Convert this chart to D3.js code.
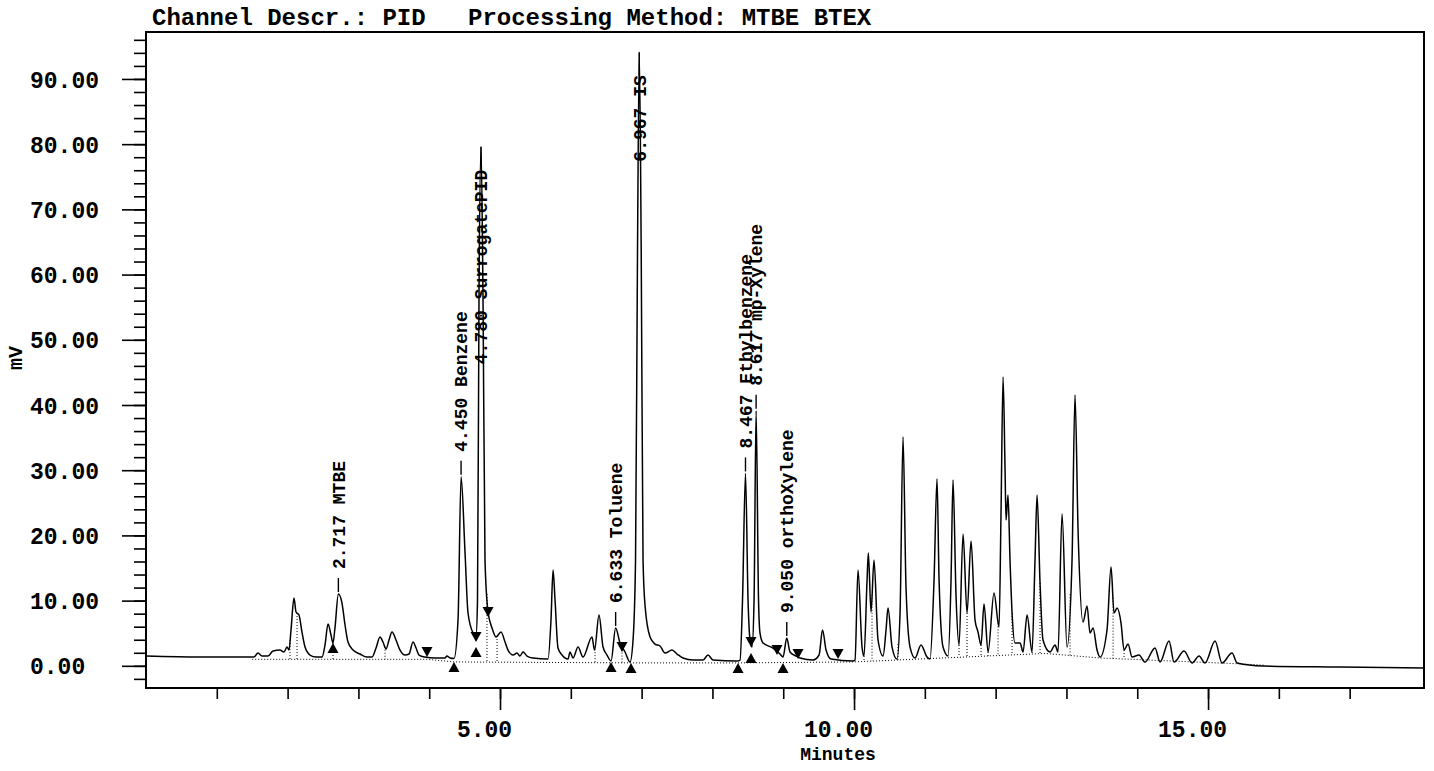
<!DOCTYPE html>
<html>
<head>
<meta charset="utf-8">
<script src="https://cdn.jsdelivr.net/npm/d3@7"></script>
<style>
  body { margin: 0; background: #fff; }
  svg { display: block; }
  text { font-family: "Liberation Mono", "DejaVu Sans Mono", monospace; font-weight: bold; fill: #000; }
</style>
</head>
<body>
<div id="chart"></div>
<script>
// PID trace: [minutes, mV]
const trace = [
  [0.000,1.50],[0.763,1.35],[1.469,1.35],[1.525,1.35],[1.582,1.96],[1.638,1.50],[1.723,1.50],[1.794,2.27],[1.893,2.42],[1.949,2.12],
  [1.992,2.88],[2.020,2.42],[2.048,5.49],[2.090,10.40],[2.119,8.25],[2.161,7.79],[2.203,5.18],[2.246,2.88],[2.316,1.66],[2.401,1.35],
  [2.486,1.35],[2.528,3.19],[2.571,6.41],[2.613,4.72],[2.641,3.50],[2.669,5.80],[2.717,11.01],[2.768,9.63],[2.811,6.26],[2.853,3.65],
  [2.924,2.42],[3.023,1.81],[3.121,1.35],[3.192,1.35],[3.249,2.73],[3.305,4.42],[3.347,3.65],[3.390,2.58],[3.432,3.96],[3.475,5.18],
  [3.531,3.96],[3.588,2.42],[3.658,1.66],[3.715,1.81],[3.771,3.65],[3.814,2.73],[3.856,1.66],[3.941,1.35],[4.082,1.20],[4.223,1.20],
  [4.251,1.50],[4.294,1.20],[4.350,1.12],[4.407,7.02],[4.450,29.0],[4.506,17.3],[4.548,8.10],[4.619,5.03],[4.661,4.57],[4.682,10.1],
  [4.703,56.1],[4.732,79.6],[4.760,56.1],[4.788,16.2],[4.831,8.25],[4.887,5.80],[4.944,4.42],[5.014,5.18],[5.071,3.65],[5.113,2.42],
  [5.184,1.66],[5.240,1.96],[5.282,1.50],[5.325,2.12],[5.381,1.50],[5.466,1.20],[5.678,1.04],[5.720,7.02],[5.749,14.69],[5.777,10.09],
  [5.819,2.73],[5.876,1.66],[5.960,1.04],[5.989,2.12],[6.031,1.20],[6.102,2.88],[6.172,1.35],[6.299,4.42],[6.335,2.42],[6.398,7.79],
  [6.455,2.88],[6.511,1.66],[6.568,0.74],[6.633,5.80],[6.695,3.50],[6.766,2.12],[6.836,0.58],[6.879,3.96],[6.914,16.2],[6.942,63.8],
  [6.967,94.1],[6.994,63.8],[7.020,16.2],[7.048,9.30],[7.119,4.42],[7.189,3.34],[7.260,3.04],[7.331,1.96],[7.429,2.42],[7.500,1.81],
  [7.585,1.20],[7.726,0.89],[7.867,0.89],[7.938,1.66],[8.008,0.89],[8.347,0.74],[8.390,0.89],[8.425,10.1],[8.467,29.5],[8.503,10.1],
  [8.531,3.96],[8.559,2.88],[8.588,10.1],[8.617,39.1],[8.651,10.1],[8.672,5.03],[8.715,3.50],[8.856,2.73],[8.955,1.81],[8.997,1.35],
  [9.050,4.26],[9.096,2.12],[9.181,1.50],[9.237,1.20],[9.421,0.89],[9.506,1.66],[9.555,5.49],[9.605,2.42],[9.675,1.04],[9.986,0.74],
  [10.014,0.89],[10.056,14.69],[10.113,2.88],[10.141,1.50],[10.184,13.16],[10.202,17.30],[10.240,8.25],[10.282,16.22],[10.339,3.96],[10.410,1.50],
  [10.452,5.49],[10.480,8.86],[10.537,2.88],[10.607,1.04],[10.650,8.10],[10.692,35.09],[10.734,12.08],[10.791,2.88],[10.862,1.20],[10.946,3.19],
  [11.031,1.35],[11.073,1.04],[11.130,13.16],[11.172,28.65],[11.201,13.16],[11.257,2.88],[11.328,1.50],[11.370,13.16],[11.398,28.49],[11.441,10.55],
  [11.483,3.19],[11.540,20.21],[11.596,8.10],[11.653,19.14],[11.709,7.02],[11.751,5.18],[11.794,3.19],[11.836,9.48],[11.893,2.12],[11.977,11.16],
  [12.048,5.95],[12.076,23.43],[12.105,44.29],[12.133,30.02],[12.147,22.36],[12.175,26.19],[12.203,16.22],[12.232,8.10],[12.274,3.50],[12.345,3.50],
  [12.387,2.12],[12.444,7.79],[12.514,2.12],[12.556,16.22],[12.585,26.19],[12.627,12.70],[12.669,3.96],[12.768,2.12],[12.839,3.19],[12.881,2.12],
  [12.938,23.28],[13.008,2.88],[13.079,16.22],[13.121,41.53],[13.164,20.82],[13.234,6.72],[13.291,9.17],[13.333,5.03],[13.376,5.80],[13.432,2.42],
  [13.475,1.35],[13.573,5.49],[13.630,15.15],[13.672,8.10],[13.715,8.86],[13.771,6.56],[13.814,2.42],[13.870,3.34],[13.927,1.35],[14.025,1.66],
  [14.110,0.58],[14.251,2.73],[14.322,0.58],[14.449,3.80],[14.520,0.58],[14.661,2.27],[14.774,0.43],[14.873,1.50],[14.958,0.43],[15.099,3.80],
  [15.198,0.43],[15.339,1.96],[15.410,0.43],[15.777,-0.03],[16.864,-0.18],[18.051,-0.34]
];

// named peaks (retention time, compound)
const peakTimes = [2.717, 4.450, 4.780, 6.633, 6.967, 8.467, 8.617, 9.050];
const peakNames = ["MTBE", "Benzene", "SurrogatePID", "Toluene", "IS", "Ethylbenzene", "mp-Xylene", "orthoXylene"];

// integration start/end markers
const markerTimes  = [2.641, 3.969, 4.350, 4.661, 4.661, 4.831, 6.568, 6.723, 6.850, 8.362, 8.545, 8.545, 8.912, 8.997, 9.209, 9.774];
const markerLevels = [3.50, 1.35, 0.58, 3.65, 2.88, 7.48, 0.58, 2.12, 0.43, 0.43, 2.88, 1.96, 1.66, 0.43, 1.04, 1.04];
const markerDirs   = ["up","down","up","down","up","down","up","down","up","up","down","up","down","up","down","down"];

// integration baseline and peak drop lines
const baselinePts = [[1.50,1.0],[3.97,1.0],[4.35,0.6],[6.85,0.45],[8.36,0.45],[10.0,0.6],[12.7,1.9],[13.48,1.2],[15.45,0.3],[15.8,0.1]];
const dropTimes = [2.034, 2.133, 2.641, 3.376, 4.816, 4.958, 6.342, 6.723, 10.141, 10.254, 10.621, 11.483, 11.596,
                   11.794, 11.893, 12.034, 12.232, 12.514, 12.627, 13.051, 13.658, 13.814];

// axis ticks
const yMajorTicks = d3.range(0, 91, 10);
const yMinorTicks = d3.range(-2, 97, 2);
const xMajorTicks = [5, 10, 15];
const xMinorTicks = d3.range(1, 18);

const width = 1434, height = 771;
const svg = d3.select("#chart").append("svg")
  .attr("width", width).attr("height", height);

const x = d3.scaleLinear().domain([0, 18.05]).range([146, 1424]);
const y = d3.scaleLinear().domain([-3.4, 97.2]).range([688, 32]);

// header
svg.append("text").attr("x", 152).attr("y", 25).style("font-size", "24px").text("Channel Descr.: PID");
svg.append("text").attr("x", 468).attr("y", 25).style("font-size", "24px").text("Processing Method: MTBE BTEX");

// axes
const fmt = d3.format(".2f");
const yMinor = svg.append("g").attr("transform", "translate(146,0)")
  .call(d3.axisLeft(y).tickValues(yMinorTicks).tickSize(12).tickSizeOuter(0).tickFormat(""));
const yMajor = svg.append("g").attr("transform", "translate(146,0)")
  .call(d3.axisLeft(y).tickValues(yMajorTicks).tickSize(24).tickSizeOuter(0).tickFormat(fmt));
yMajor.selectAll("text").attr("x", -116).attr("text-anchor", "start").attr("dy", "0.35em");

const xMinor = svg.append("g").attr("transform", "translate(0,688)")
  .call(d3.axisBottom(x).tickValues(xMinorTicks).tickSize(11).tickSizeOuter(0).tickFormat(""));
const xMajor = svg.append("g").attr("transform", "translate(0,688)")
  .call(d3.axisBottom(x).tickValues(xMajorTicks).tickSize(22).tickSizeOuter(0).tickFormat(fmt));
xMajor.selectAll("text").attr("y", 49).attr("dy", 0).attr("dx", -16);

[yMinor, yMajor, xMinor, xMajor].forEach(g => {
  g.attr("font-family", null).attr("font-size", null);
  g.select(".domain").remove();
  g.selectAll("line").attr("stroke", "#000").attr("stroke-width", 1.6);
  g.selectAll("text").style("font-size", "23px").attr("fill", "#000");
});

svg.append("text").attr("transform", "translate(22,358) rotate(-90)")
  .attr("text-anchor", "middle").style("font-size", "20px").text("mV");
svg.append("text").attr("x", 838).attr("y", 760)
  .attr("text-anchor", "middle").style("font-size", "18px").text("Minutes");

// frame
svg.append("rect").attr("x", 146).attr("y", 32).attr("width", 1424 - 146).attr("height", 688 - 32)
  .attr("fill", "none").attr("stroke", "#000").attr("stroke-width", 2);

// helpers to read the trace / baseline at a time
const bis = d3.bisector(d => d[0]).left;
function valueAt(arr, t) {
  const i = Math.max(1, Math.min(arr.length - 1, bis(arr, t)));
  const a = arr[i - 1], b = arr[i];
  return a[1] + (b[1] - a[1]) * (t - a[0]) / (b[0] - a[0]);
}

const plot = svg.append("g");

// dotted integration baseline and drop lines
plot.append("path").datum(baselinePts)
  .attr("d", d3.line().x(d => x(d[0])).y(d => y(d[1])))
  .attr("fill", "none").attr("stroke", "#000").attr("stroke-width", 1)
  .attr("stroke-dasharray", "1,2");
plot.selectAll(".drop").data(dropTimes).enter().append("line")
  .attr("class", "drop")
  .attr("x1", d => x(d)).attr("x2", d => x(d))
  .attr("y1", d => y(valueAt(trace, d))).attr("y2", d => y(valueAt(baselinePts, d)))
  .attr("stroke", "#000").attr("stroke-width", 1).attr("stroke-dasharray", "1,2");

// the trace
plot.append("path").datum(trace)
  .attr("d", d3.line().x(d => x(d[0])).y(d => y(d[1])).curve(d3.curveMonotoneX))
  .attr("fill", "none").attr("stroke", "#000").attr("stroke-width", 1.5);

// triangles
markerTimes.forEach((t, i) => {
  const px = x(t), py = y(markerLevels[i]);
  const s = markerDirs[i] === "up" ? 1 : -1;
  plot.append("path")
    .attr("d", `M${px},${py}L${px - 5.5},${py + s * 10}L${px + 5.5},${py + s * 10}Z`)
    .attr("fill", "#000");
});

// peak labels
peakTimes.forEach((rt, i) => {
  const near = trace.filter(p => Math.abs(p[0] - rt) < 0.08);
  const apex = near.reduce((a, b) => b[1] > a[1] ? b : a);
  const px = x(apex[0]), py = y(apex[1]);
  const label = plot.append("text")
    .style("font-size", "18px")
    .attr("dy", "0.35em")
    .text(d3.format(".3f")(rt) + " " + peakNames[i]);
  const len = label.node().getComputedTextLength();
  if (py - 25 - len < 40) {
    // no room above: written over the peak, just under its top
    plot.append("line").attr("x1", px).attr("x2", px).attr("y1", py).attr("y2", py + 23)
      .attr("stroke", "#000").attr("stroke-width", 1.4);
    label.attr("text-anchor", "end").attr("transform", `translate(${px},${py + 23}) rotate(-90)`);
  } else {
    plot.append("line").attr("x1", px).attr("x2", px).attr("y1", py - 2).attr("y2", py - 16)
      .attr("stroke", "#000").attr("stroke-width", 1.4);
    label.attr("text-anchor", "start").attr("transform", `translate(${px},${py - 25}) rotate(-90)`);
  }
});
</script>
</body>
</html>
